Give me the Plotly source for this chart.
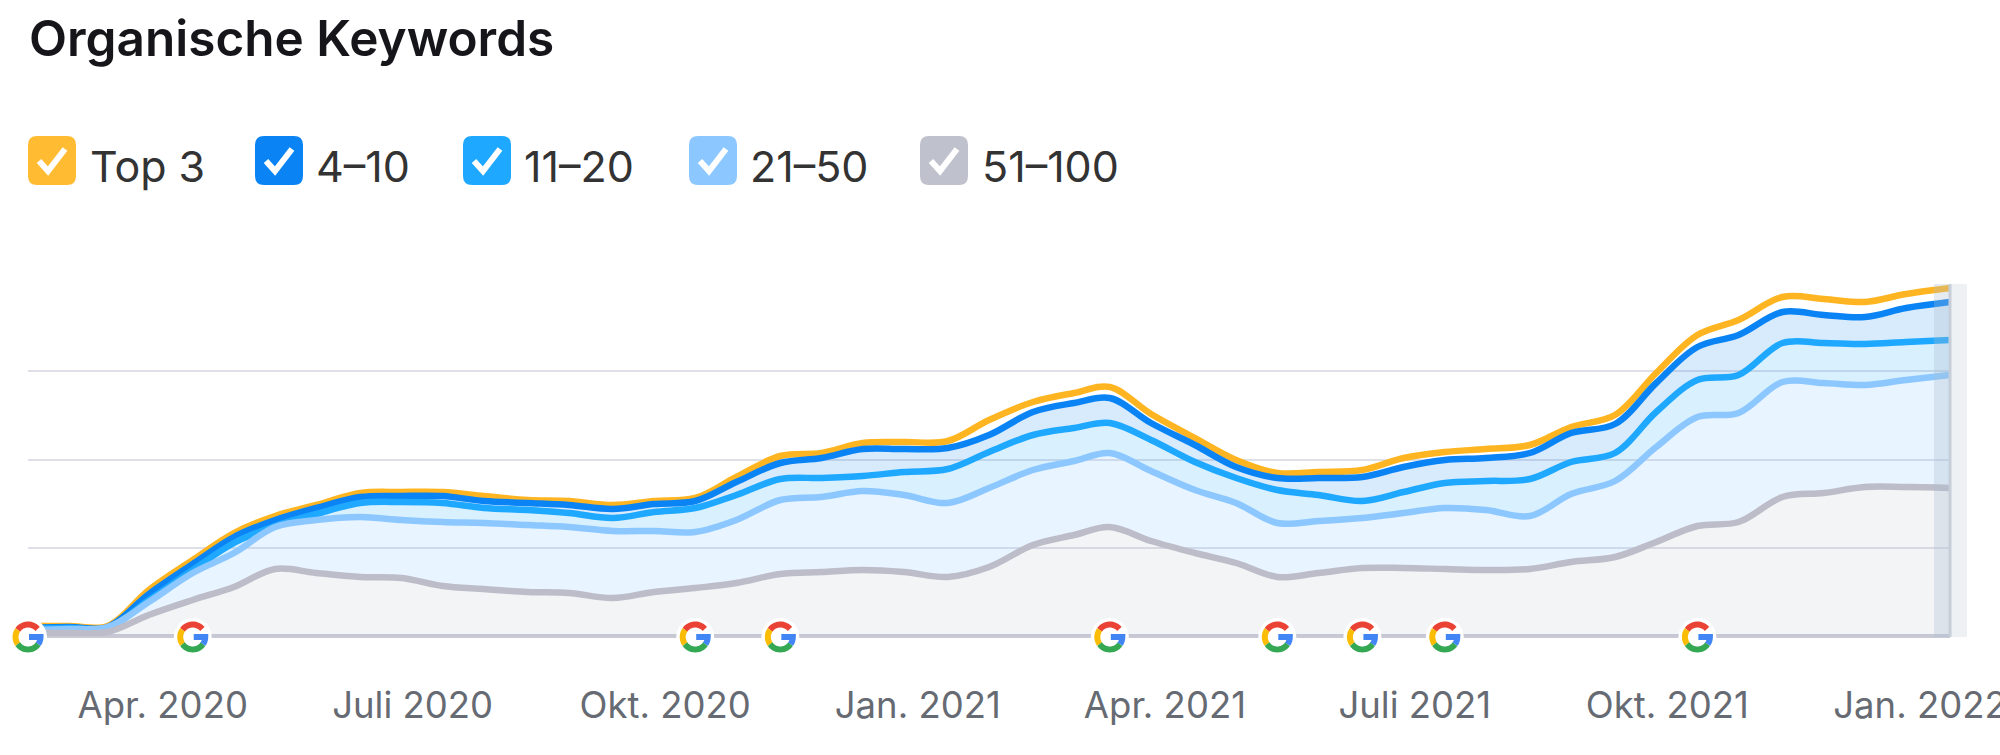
import math
from datetime import date
import plotly.graph_objects as go

W, H = 2000, 755
FONT = "Inter"

title_text = "Organische Keywords"
dates = ["2020-02-01", "2020-02-16", "2020-03-01", "2020-03-16", "2020-04-01", "2020-04-16", "2020-05-01", "2020-05-16",
         "2020-06-01", "2020-06-16", "2020-07-01", "2020-07-16", "2020-08-01", "2020-08-16", "2020-09-01", "2020-09-16",
         "2020-10-01", "2020-10-16", "2020-11-01", "2020-11-16", "2020-12-01", "2020-12-16", "2021-01-01", "2021-01-16",
         "2021-02-01", "2021-02-16", "2021-03-01", "2021-03-16", "2021-04-01", "2021-04-16", "2021-05-01", "2021-05-16",
         "2021-06-01", "2021-06-16", "2021-07-01", "2021-07-16", "2021-08-01", "2021-08-16", "2021-09-01", "2021-09-16",
         "2021-10-01", "2021-10-16", "2021-11-01", "2021-11-16", "2021-12-01", "2021-12-16", "2022-01-01"]
tick_dates = ["2020-04-01", "2020-07-01", "2020-10-01", "2021-01-01", "2021-04-01", "2021-07-01", "2021-10-01", "2022-01-01"]
tick_labels = ["Apr. 2020", "Juli 2020", "Okt. 2020", "Jan. 2021", "Apr. 2021", "Juli 2021", "Okt. 2021", "Jan. 2022"]
google_updates = ["2020-02-01", "2020-04-01", "2020-10-01", "2020-11-01", "2021-03-01", "2021-05-01", "2021-06-01", "2021-07-01", "2021-10-01"]

# cumulative values (the chart shows no y labels; one grid step = 88.25)
top3 = [10, 10, 10, 46, 76, 103, 120, 131, 143, 144, 144, 140,
        136, 135, 131, 135, 138, 159, 180, 183, 193, 194, 195,
        216, 234, 243, 249, 222, 198, 176, 163, 164, 166, 178, 184,
        187, 191, 209, 221, 263, 301, 316, 339, 337, 334, 342, 348]
pos4_10 = [8, 9, 9, 42, 72, 99, 116, 128, 139, 140, 140, 135,
           133, 131, 127, 132, 135, 154, 173, 178, 187, 187, 188,
           201, 224, 233, 238, 213, 191, 169, 158, 158, 159, 169, 176,
           178, 183, 203, 212, 253, 289, 301, 324, 321, 319, 328, 334]
pos11_20 = [7, 8, 8, 36, 66, 93, 110, 122, 133, 134, 133, 128,
            126, 123, 118, 124, 128, 141, 157, 158, 160, 164, 167,
            184, 201, 208, 213, 196, 174, 158, 146, 141, 135, 144, 153,
            155, 157, 174, 183, 224, 256, 261, 293, 293, 292, 294, 296]
pos21_50 = [6, 7, 9, 34, 63, 83, 109, 116, 119, 116, 114, 113,
            111, 109, 105, 105, 104, 116, 136, 139, 145, 141, 133,
            148, 166, 175, 183, 165, 146, 133, 113, 115, 118, 123, 128,
            126, 120, 142, 155, 189, 219, 223, 254, 253, 251, 256, 261]
pos51_100 = [3, 3, 4, 21, 36, 49, 67, 63, 59, 58, 50, 47,
             44, 43, 38, 44, 48, 53, 62, 64, 66, 64, 59,
             69, 91, 101, 109, 95, 83, 73, 59, 63, 68, 68, 67,
             66, 67, 74, 79, 94, 110, 114, 139, 143, 149, 149, 148]

series_names = ["Top 3", "4–10", "11–20", "21–50", "51–100"]
series_values = [top3, pos4_10, pos11_20, pos21_50, pos51_100]
line_colors = ["#FFB521", "#0A84F5", "#1FA8FF", "#8CC8FF", "#BDBDC9"]
fill_colors = ["rgba(255,255,255,0)", "rgba(10,132,245,0.16)", "rgba(31,168,255,0.17)",
               "rgba(140,200,255,0.20)", "rgba(190,192,205,0.18)"]
legend_box_colors = ["#FFBC33", "#0A84F5", "#1FA8FF", "#8CC8FF", "#BFC1CC"]
legend_box_x = [28, 255, 463, 689, 920]
legend_text_x = [88, 314, 522, 748, 980]

y_ticks = [0, 88.25, 176.5, 264.75, 353]

PLOT_L, PLOT_R, PLOT_T, PLOT_B = 28, 1950, 282, 636


def px(x):
    return x / W


def py(y):
    return 1 - y / H


def date_paper(d):
    start = date.fromisoformat(dates[0])
    end = date.fromisoformat(dates[-1])
    t = (date.fromisoformat(d) - start).days / (end - start).days
    return px(PLOT_L + (PLOT_R - PLOT_L) * t)


fig = go.Figure()

# fills, from the bottom band up
for i in range(4, -1, -1):
    fig.add_trace(go.Scatter(
        x=dates, y=series_values[i], mode="lines", hoverinfo="skip", showlegend=False,
        line=dict(width=0, shape="spline", smoothing=1.0),
        fill="tozeroy" if i == 4 else "tonexty", fillcolor=fill_colors[i]))

# lines, top band first so the lower ones lie over it
for i in range(5):
    fig.add_trace(go.Scatter(
        x=dates, y=series_values[i], mode="lines", name=series_names[i], showlegend=False,
        line=dict(width=6.5, color=line_colors[i], shape="spline", smoothing=1.0)))

shapes = []
annotations = []

# hover band at the last month
shapes.append(dict(type="rect", xref="paper", yref="paper", layer="above",
                   x0=px(1934), x1=px(1950), y0=py(637), y1=py(284),
                   fillcolor="rgba(170,190,205,0.30)", line=dict(width=0)))
shapes.append(dict(type="rect", xref="paper", yref="paper", layer="above",
                   x0=px(1950), x1=px(1967), y0=py(637), y1=py(284),
                   fillcolor="rgba(205,215,220,0.35)", line=dict(width=0)))
shapes.append(dict(type="line", xref="paper", yref="paper", layer="above",
                   x0=px(1950), x1=px(1950), y0=py(637), y1=py(284),
                   line=dict(width=3, color="#C6CED9")))


def arc(a0, a1, r=12.5):
    n = 14
    pts = []
    for j in range(n + 1):
        a = math.radians(a0 + (a1 - a0) * j / n)
        pts.append((r * math.cos(a), r * math.sin(a)))
    return "M " + " L ".join(f"{x:.2f},{y - 1:.2f}" for x, y in pts)


g_parts = [(arc(40, 145), "#EA4335"), (arc(145, 215), "#FBBC05"),
           (arc(215, 325), "#34A853"), (arc(325, 360) + " L 1,-1", "#4285F4")]
for d in google_updates:
    base = dict(xref="paper", yref="paper", xanchor=date_paper(d), yanchor=py(PLOT_B),
                xsizemode="pixel", ysizemode="pixel", layer="above")
    shapes.append(dict(type="circle", x0=-19, x1=19, y0=-20, y1=18, fillcolor="white",
                       line=dict(width=0), **base))
    for path, col in g_parts:
        shapes.append(dict(type="path", path=path, line=dict(color=col, width=6), **base))

# legend drawn as check boxes
for name, col, bx, tx in zip(series_names, legend_box_colors, legend_box_x, legend_text_x):
    x0, x1, y0, y1, r = bx, bx + 48, 136, 185, 9
    path = (f"M {px(x0 + r)},{py(y0)} L {px(x1 - r)},{py(y0)} Q {px(x1)},{py(y0)} {px(x1)},{py(y0 + r)} "
            f"L {px(x1)},{py(y1 - r)} Q {px(x1)},{py(y1)} {px(x1 - r)},{py(y1)} "
            f"L {px(x0 + r)},{py(y1)} Q {px(x0)},{py(y1)} {px(x0)},{py(y1 - r)} "
            f"L {px(x0)},{py(y0 + r)} Q {px(x0)},{py(y0)} {px(x0 + r)},{py(y0)} Z")
    shapes.append(dict(type="path", xref="paper", yref="paper", path=path, fillcolor=col,
                       line=dict(width=0), layer="above"))
    chk = f"M {px(x0 + 11)},{py(y0 + 25)} L {px(x0 + 20)},{py(y0 + 35)} L {px(x0 + 37)},{py(y0 + 13)}"
    shapes.append(dict(type="path", xref="paper", yref="paper", path=chk,
                       line=dict(width=6, color="white"), layer="above"))
    annotations.append(dict(text=name, xref="paper", yref="paper", x=px(tx), y=py(166),
                            xanchor="left", yanchor="middle", showarrow=False,
                            font=dict(family=FONT, size=43, color="#333333")))

annotations.append(dict(text=title_text, xref="paper", yref="paper", x=px(27), y=py(38),
                        xanchor="left", yanchor="middle", showarrow=False,
                        font=dict(family=FONT, size=49.5, color="#16161A", weight=600)))

# the clipped end of the "Okt. 2020" label
shapes.append(dict(type="rect", xref="paper", yref="paper", layer="above",
                   x0=px(749), x1=px(790), y0=py(730), y1=py(675),
                   fillcolor="white", line=dict(width=0)))

fig.update_layout(
    width=W, height=H, margin=dict(l=0, r=0, t=0, b=0), autosize=False,
    paper_bgcolor="white", plot_bgcolor="white", showlegend=False,
    shapes=shapes, annotations=annotations,
    xaxis=dict(domain=[px(PLOT_L), px(PLOT_R)], type="date", range=[dates[0], dates[-1]],
               automargin=False, tickmode="array", tickvals=tick_dates, ticktext=tick_labels,
               ticklabelshift=-30, ticklabelstandoff=44, ticklabeloverflow="allow", ticks="",
               showgrid=False, zeroline=False, showline=False,
               tickfont=dict(family=FONT, size=36.5, color="#666A72")),
    yaxis=dict(domain=[py(PLOT_B), py(PLOT_T)], range=[0, PLOT_B - PLOT_T], automargin=False,
               tickmode="array", tickvals=y_ticks,
               showticklabels=False, ticks="", showgrid=True, gridcolor="#DFDFE8", gridwidth=2,
               zeroline=True, zerolinecolor="#C9C9D6", zerolinewidth=3.5, showline=False),
)

fig.write_html("out.html", config={"displayModeBar": False},
               post_script="document.body.style.margin='0';document.body.style.overflow='hidden';")
